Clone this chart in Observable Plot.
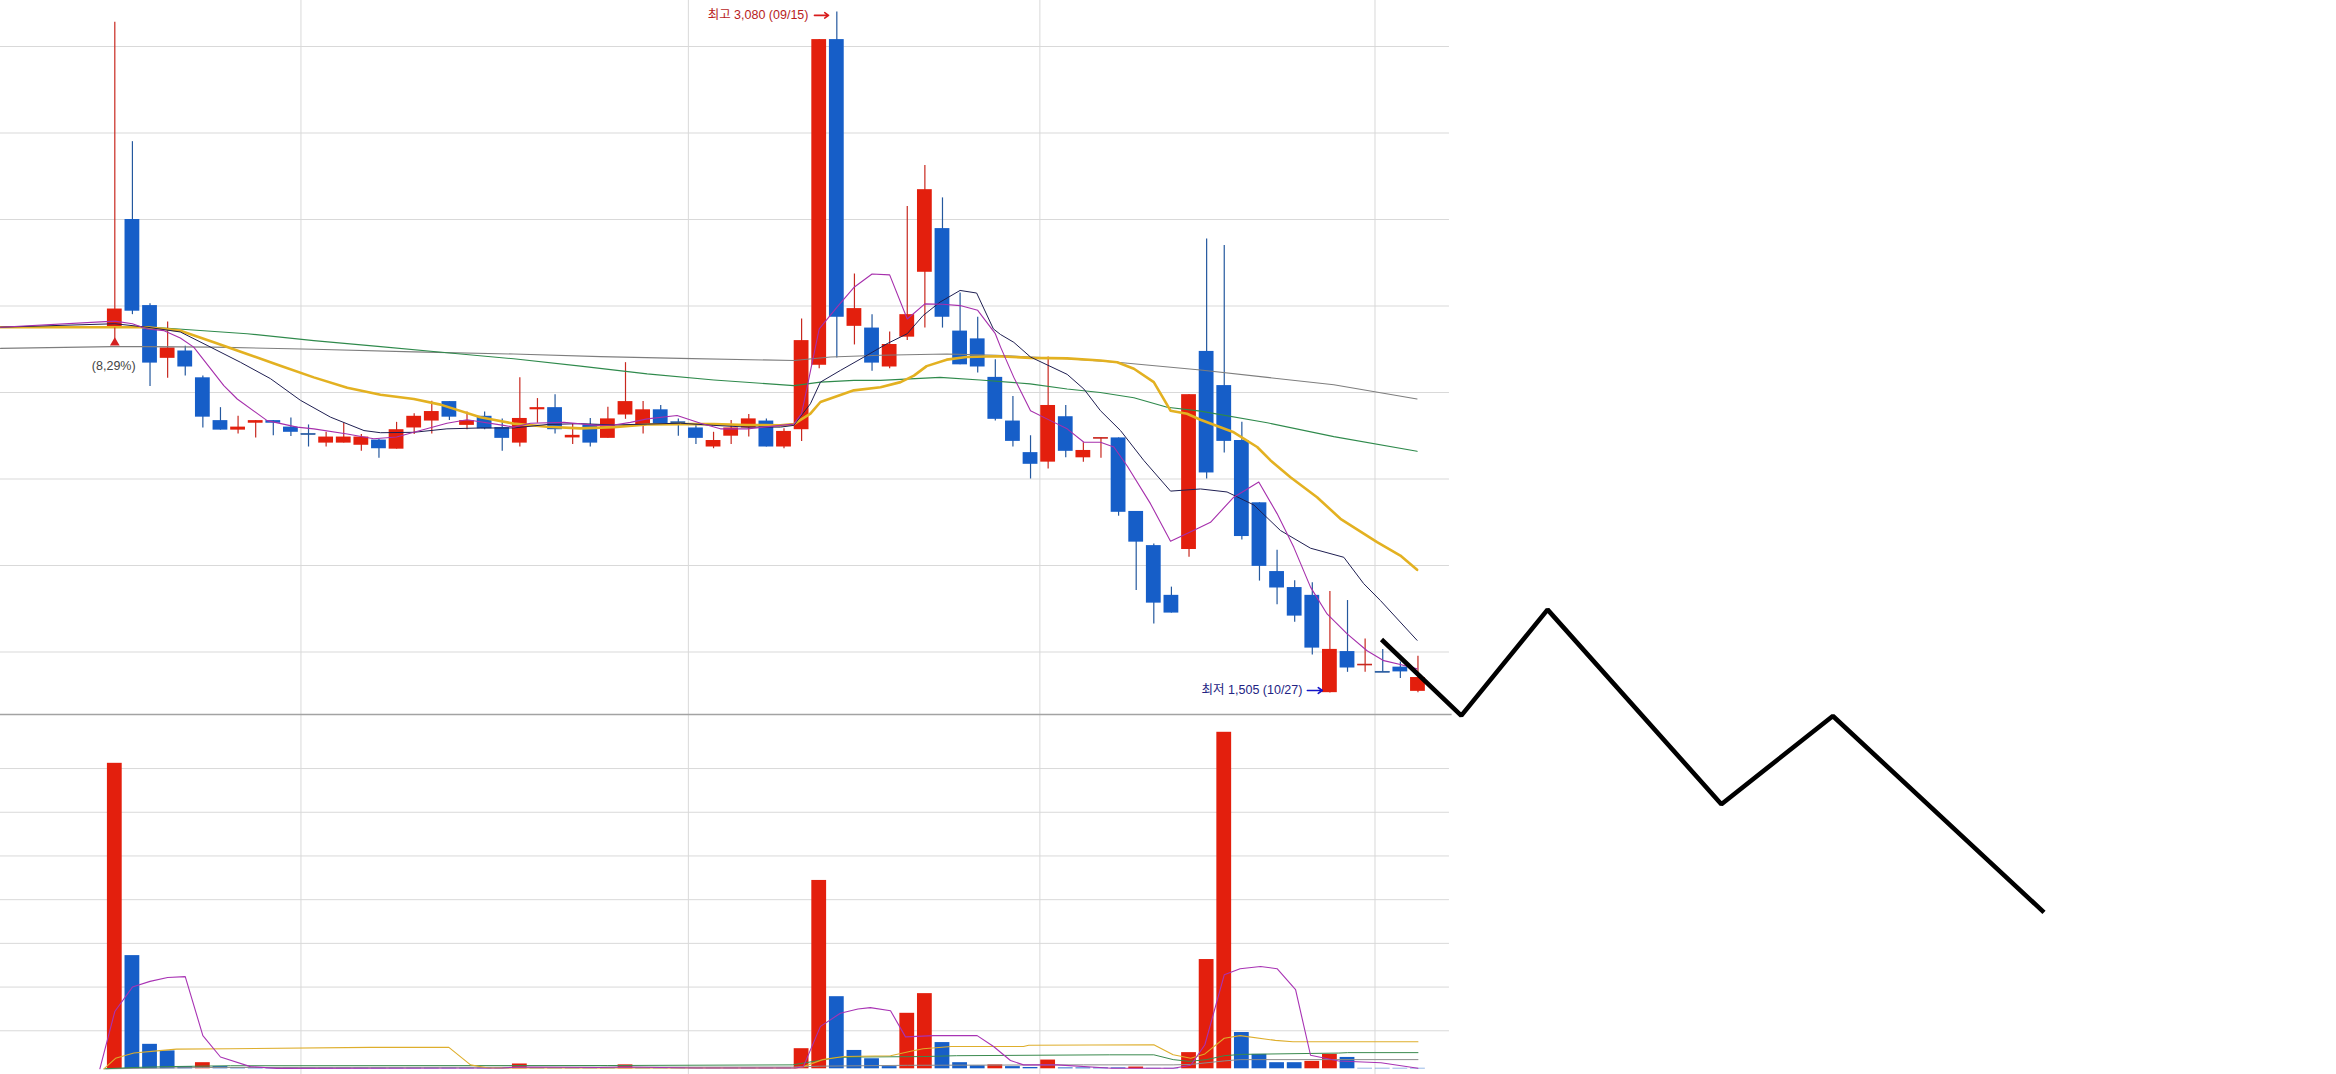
<!DOCTYPE html>
<html>
<head>
<meta charset="utf-8">
<script src="https://cdn.jsdelivr.net/npm/d3@7"></script>
<script src="https://cdn.jsdelivr.net/npm/@observablehq/plot@0.6"></script>
<style>
html, body { margin: 0; padding: 0; background: #ffffff; }
#chart { position: relative; width: 2336px; height: 1074px; overflow: hidden; background: #ffffff; }
#chart svg { position: absolute; left: 0; top: 0; }
</style>
</head>
<body>
<div id="chart"></div>
<script>
// ---------- DATA ----------
// daily candles, index 0..74
const open  = [2350,2600,2401,2279,2296,2234,2135,2113,2129,2135, 2120,2105,2083,2083,2078,2090,2069,2118,2134,2179,
               2124,2145,2119,2083,2160,2165,2095,2125,2094,2148, 2125,2160,2132,2118,2074,2099,2118,2134,2074,2114,
               2263,3016,2353,2349,2259,2328,2478,2579,2342,2324, 2235,2134,2061,2039,2144,2049,2094,2095,1925,1846,
               1731,1837,2295,2216,2089,1945,1786,1749,1731,1506, 1601,1570,1555,1565,1509];
const high  = [3056,2780,2405,2363,2307,2238,2165,2145,2135,2135, 2141,2125,2108,2129,2103,2092,2131,2151,2180,2179,
               2155,2155,2139,2234,2186,2195,2128,2140,2166,2269, 2179,2170,2139,2125,2108,2135,2149,2139,2116,2370,
               3016,3080,2474,2380,2340,2630,2725,2650,2430,2374, 2276,2191,2100,2282,2170,2084,2095,2095,1925,1850,
               1750,2195,2555,2540,2131,1945,1835,1765,1760,1740, 1719,1630,1606,1577,1590];
const low   = [2349,2380,2214,2233,2238,2118,2113,2104,2095,2100, 2098,2074,2074,2083,2064,2048,2069,2103,2104,2135,
               2114,2114,2064,2074,2129,2104,2080,2074,2094,2138, 2104,2125,2099,2080,2070,2080,2097,2074,2070,2087,
               2255,2280,2310,2249,2255,2320,2349,2349,2264,2245, 2134,2074,2000,2023,2049,2039,2048,1914,1742,1665,
               1690,1819,2000,2060,1859,1764,1709,1669,1593,1505, 1553,1553,1554,1539,1506];
const close = [2393,2388,2268,2303,2259,2143,2113,2120,2135,2129, 2108,2104,2097,2097,2097,2070,2114,2145,2156,2143,
               2135,2116,2094,2140,2165,2114,2101,2083,2139,2179, 2160,2125,2131,2094,2089,2118,2139,2074,2110,2320,
               3016,2374,2394,2268,2311,2380,2669,2374,2264,2259, 2138,2087,2034,2170,2064,2066,2095,1923,1854,1713,
               1690,2195,2014,2087,1867,1798,1748,1683,1609,1606, 1563,1571,1554,1554,1541];
// volume (relative units), and whether the bar is drawn red (u) or blue (d)
const volume = [699,259,56,41,5,14,5, 2,2,2,2,2,2,2,2,2,2,2,2,2,2,2,2, 11, 2,2,2,2,2, 9, 2,2,2,2,2,2,2,2,2,
                46,431,165,42,23,5,127,172,60,14,7,9,5,3,20,2,2,2,2,4,1,1,37,250,770,83,33,14,14,17,33,26,1,1,1,1];
const volDir = ["u","d","d","d","d","u","d", "d","d","d","d","d","d","d","d","d","d","d","d","d","d","d","d", "u",
                "d","d","d","d","d", "u", "d","d","d","d","d","d","d","d","d",
                "u","u","d","d","d","d","u","u","d","d","d","u","d","d","u","d","d","d","d","u","d","d",
                "u","u","u","d","d","d","d","u","u","d","d","d","d","d"];

// price moving averages [day index, price]
const ma5 = [[-6.49,2351],[0,2365],[1,2359],[1.83,2347],[2.8,2343],[3.72,2326],[4.48,2305],[6.19,2216],[6.95,2185],
  [8.65,2135],[10.35,2120],[11.3,2116],[13.2,2104],[14.7,2093],[16,2097],[16.98,2108],[18.86,2129],[20,2137],
  [22.08,2124],[22.65,2120],[23.6,2129],[25.5,2131],[27.39,2124],[28.34,2125],[29.28,2131],[30.23,2139],[31.93,2147],
  [33.26,2129],[34.39,2116],[35.9,2116],[36.85,2120],[37.8,2124],[38.56,2127],[39,2151],[40,2347],[41,2397],
  [42,2444],[43,2474],[44,2472],[45,2370],[46,2405],[47,2404],[48,2401],[49,2390],[50,2336],[50.3,2305],
  [51.05,2235],[52,2158],[53.13,2135],[54.08,2116],[55.03,2085],[55.97,2085],[56.73,2074],[57.49,2030],
  [58.81,1943],[59.95,1856],[61.46,1885],[62.22,1900],[63.54,1958],[64.96,1993],[66,1920],[66.95,1842],
  [67.9,1750],[68.84,1688],[69.98,1642],[71.11,1603],[72.06,1580],[73,1571],[73.95,1561]];
const ma10 = [[-6.49,2351],[0,2359],[1.83,2351],[3.72,2340],[5.24,2309],[7.13,2270],[8.84,2232],[10.54,2182],
  [12.25,2143],[14.15,2112],[15.09,2107],[16.98,2108],[18.86,2116],[20.76,2118],[22.65,2118],[24.55,2126],
  [26.45,2128],[28.34,2125],[30.23,2127],[32.12,2129],[34.02,2124],[35.9,2120],[37.8,2120],[38.56,2124],
  [39.5,2174],[40.07,2224],[41.2,2251],[42.54,2282],[43.86,2313],[45,2336],[45.9,2378],[46.86,2409],[48,2436],
  [48.94,2430],[49.89,2347],[50.3,2334],[51.05,2316],[52,2282],[54.08,2242],[55.03,2208],[55.97,2158],
  [57.11,2112],[58.43,2043],[59.95,1972],[61.65,1977],[63.16,1970],[64.68,1940],[66.19,1881],[67.9,1840],
  [69.79,1819],[70.92,1758],[71.87,1719],[73.95,1627]];
const ma20 = [[-6.49,2351],[1.83,2351],[3.72,2343],[5.62,2316],[7.51,2289],[9.4,2262],[11.3,2235],[13.2,2211],
  [15.09,2195],[16.98,2185],[18.5,2172],[20.76,2143],[22.65,2128],[24.55,2121],[26.45,2117],[28.34,2120],
  [30.23,2126],[32.12,2127],[34.02,2127],[35.9,2125],[37.8,2124],[38.56,2127],[39.5,2151],[40.07,2178],
  [41.97,2205],[43.48,2212],[44.62,2224],[45.38,2239],[46.1,2261],[47.24,2276],[48.37,2282],[50.08,2284],
  [52,2280],[54.08,2279],[55.97,2274],[56.92,2270],[57.87,2255],[59,2224],[59.95,2158],[60.89,2151],
  [61.65,2137],[63.54,2108],[64.87,2074],[65.63,2043],[66.76,2004],[68.27,1958],[69.6,1908],[71.68,1854],
  [73,1823],[73.95,1790]];
const ma60 = [[-6.49,2351],[1.83,2351],[2.8,2349],[7.51,2336],[11.3,2320],[15.09,2306],[18.86,2292],
  [22.65,2278],[26.45,2261],[30.23,2243],[34.02,2229],[38.56,2216],[40.07,2224],[41.97,2228],[43.48,2228],
  [46.86,2235],[49.13,2229],[51.97,2220],[54.08,2208],[55.96,2200],[57.87,2188],[59.76,2166],[61.65,2157],
  [65.44,2130],[69.22,2098],[73.95,2064]];
const ma120 = [[-6.49,2302],[-0.13,2306],[1.83,2306],[5.62,2305],[11.3,2300],[16.98,2294],[22.65,2289],
  [27.58,2283],[32.12,2279],[38.56,2274],[40.64,2282],[43.48,2286],[47.24,2289],[50.08,2286],[54.08,2278],
  [56.92,2270],[61.65,2252],[65.44,2235],[69.22,2218],[73.95,2185]];

// volume moving averages [day index, volume]
const vma5 = [[-0.85,0],[0,131],[1,187],[2,200],[3,209],[4,211],[5,76],[6,27],[7.7,5],[9.2,1],[22,2],[23,4],
  [27.5,3],[29,4],[33,2],[38.65,2],[39.1,5],[40.07,97],[41.2,127],[42.2,137],[42.9,140],[44.05,133],[44.9,73],
  [46.5,76],[48.97,76],[49.9,51],[50.86,19],[51.6,9],[53.5,9],[56.6,1.4],[60.1,1.4],[61.1,8],[61.9,55],
  [63,215],[63.9,229],[65.06,234],[66,229],[67.05,181],[67.9,31],[69.5,18],[71.9,14],[74,1.4]];
const vma20 = [[-0.62,0],[0.04,24],[1.08,36],[2.4,41],[3.5,45],[6.57,46],[14.5,49],[18.97,49],[20.2,9],
  [21.2,2],[38.6,2],[39.1,5],[40.2,21],[41.4,28],[44.05,30],[45.2,40],[45.9,46],[47.5,51],[51.6,51],[51.9,54],
  [59,55],[60.1,32],[61.1,24],[61.9,34],[63,70],[63.9,76],[65.9,65],[66.9,62],[74,62]];
const vma60 = [[-0.6,0],[1.08,3],[3,5],[6.57,7],[28,7.5],[38.5,9],[39.1,13],[40.3,21],[41,26],[42.2,27],
  [45.9,28],[47.8,30],[56.5,32],[59,32],[60.1,21],[61,17],[62,21],[63,30],[64,33],[69.5,36],[70,37],[74,37]];
const vma120 = [[-0.5,0],[5,3],[38.5,4],[40,6],[45,8],[55,9],[60.1,9],[61.1,10],[63,18],[63.9,21],[74,21]];

// grid / tick values
const priceGrid = [1600, 1800, 2000, 2200, 2400, 2600, 2800, 3000];
const volGrid = [87, 187, 287, 387, 487, 587, 687];
const monthLines = [10.57, 32.57, 52.53, 71.56];

// annotations
const highLabel = {text: "최고 3,080 (09/15)", i: 39.39, p: 3072, a1: 39.73, a2: 40.53};
const lowLabel  = {text: "최저 1,505 (10/27)", i: 67.44, p: 1511, a1: 67.72, a2: 68.57};
const pctLabel  = {text: "(8,29%)", i: -0.06, p: 2262, mark: 2315, stemTop: 2349};
// hand-drawn projection line
const zigzagI = [71.93, 76.46, 81.36, 91.23, 97.56, 109.55];
const zigzagP = [1629, 1453, 1698, 1248, 1452, 998];

// ---------- LAYOUT ----------
const W = 2336, H = 1074;
const X_DOMAIN = [-6.491, 126.16];
const X_LEFT = -6.491, X_RIGHT = 75.79;
const P_DOMAIN = [1455.5, 3106.4], P_RANGE = [714, 0];
const V_DOMAIN = [0, 810.7], V_RANGE = [1068.3, 714];
const V_BOTTOM = -13;

const RED = "#e31f0d", BLUE = "#165ec8";
const RED_WICK = "#c8281f", BLUE_WICK = "#24589e";
const GRID = "#d9d9d9";
const HALF = 0.42;
const FONT = "'Liberation Sans', 'Noto Sans CJK KR', sans-serif";

const candles = open.map((o, i) => ({i, o, h: high[i], l: low[i], c: close[i], up: close[i] >= o}));
const dojis = candles.filter(d => Math.abs(d.c - d.o) < 2);
const vols = volume.map((v, i) => ({i, v, up: volDir[i] === "u"}));
const zigzag = zigzagI.map((x, k) => ({i: x, p: zigzagP[k]}));

const maLine = (arr, stroke, strokeWidth) =>
  Plot.line(arr, {x: d => d[0], y: d => d[1], stroke, strokeWidth, curve: "linear", strokeLinejoin: "round"});

// ---------- VOLUME PANEL ----------
const volPlot = Plot.plot({
  width: W, height: H,
  marginTop: 0, marginRight: 0, marginBottom: 0, marginLeft: 0,
  style: {background: "transparent"},
  x: {domain: X_DOMAIN, range: [0, W], axis: null},
  y: {domain: V_DOMAIN, range: V_RANGE, axis: null},
  marks: [
    Plot.ruleY(volGrid, {x1: () => X_LEFT, x2: () => X_RIGHT, stroke: GRID, strokeWidth: 1}),
    Plot.ruleX(monthLines, {y1: () => V_BOTTOM, y2: () => V_DOMAIN[1], stroke: GRID, strokeWidth: 1}),
    Plot.rect(vols, {x1: d => d.i - HALF, x2: d => d.i + HALF, y1: () => 0, y2: "v",
      fill: d => d.up ? RED : BLUE}),
    maLine(vma120, "#8c8c8c", 1),
    maLine(vma60, "#3a8a4e", 1),
    maLine(vma20, "#deae2c", 1.1),
    maLine(vma5, "#a833b4", 1.1)
  ]
});

// ---------- PRICE PANEL ----------
const pricePlot = Plot.plot({
  width: W, height: H,
  marginTop: 0, marginRight: 0, marginBottom: 0, marginLeft: 0,
  style: {background: "transparent", overflow: "visible"},
  x: {domain: X_DOMAIN, range: [0, W], axis: null},
  y: {domain: P_DOMAIN, range: P_RANGE, axis: null},
  marks: [
    Plot.ruleY(priceGrid, {x1: () => X_LEFT, x2: () => X_RIGHT, stroke: GRID, strokeWidth: 1}),
    Plot.ruleX(monthLines, {y1: () => P_DOMAIN[0], y2: () => P_DOMAIN[1], stroke: GRID, strokeWidth: 1}),
    Plot.ruleY([P_DOMAIN[0]], {x1: () => X_LEFT, x2: () => X_RIGHT + 0.15, stroke: "#a3a3a3", strokeWidth: 1.6}),
    // candles
    Plot.ruleX(candles, {x: "i", y1: "l", y2: "h", stroke: d => d.up ? RED_WICK : BLUE_WICK, strokeWidth: 1.2}),
    Plot.rect(candles, {x1: d => d.i - HALF, x2: d => d.i + HALF, y1: "o", y2: "c", fill: d => d.up ? RED : BLUE}),
    Plot.ruleY(dojis, {y: "c", x1: d => d.i - HALF, x2: d => d.i + HALF, stroke: d => d.up ? RED_WICK : BLUE_WICK, strokeWidth: 1.6}),
    // moving averages
    maLine(ma120, "#7e7e7e", 1.1),
    maLine(ma60, "#2f8a4c", 1.1),
    maLine(ma20, "#e3b121", 2.6),
    maLine(ma10, "#1f1f52", 1),
    maLine(ma5, "#a62fac", 1.1),
    // (8,29%) marker
    Plot.ruleX([pctLabel], {x: () => 0, y1: "mark", y2: "stemTop", stroke: RED_WICK, strokeWidth: 1.2}),
    Plot.dot([pctLabel], {x: () => 0, y: "mark", symbol: "triangle", r: 3.6, fill: "#d42020", stroke: "none"}),
    Plot.text([pctLabel], {x: "i", y: "p", text: "text", fill: "#444444", fontSize: 12.5, fontFamily: FONT, textAnchor: "middle"}),
    // high / low labels
    Plot.text([highLabel], {x: "i", y: "p", text: "text", fill: "#b81c1c", fontSize: 12.5, fontFamily: FONT, textAnchor: "end"}),
    Plot.arrow([highLabel], {x1: "a1", x2: "a2", y1: "p", y2: "p", stroke: "#d81c1c", strokeWidth: 1.6, headLength: 7, headAngle: 70}),
    Plot.text([lowLabel], {x: "i", y: "p", text: "text", fill: "#232383", fontSize: 12.5, fontFamily: FONT, textAnchor: "end"}),
    Plot.arrow([lowLabel], {x1: "a1", x2: "a2", y1: "p", y2: "p", stroke: "#1414c8", strokeWidth: 1.6, headLength: 7, headAngle: 70}),
    // hand-drawn zigzag
    Plot.line(zigzag, {x: "i", y: "p", stroke: "#000000", strokeWidth: 4.6, strokeLinejoin: "miter", strokeLinecap: "butt", curve: "linear"})
  ]
});

const chart = document.getElementById("chart");
chart.appendChild(volPlot);
chart.appendChild(pricePlot);
</script>
</body>
</html>
